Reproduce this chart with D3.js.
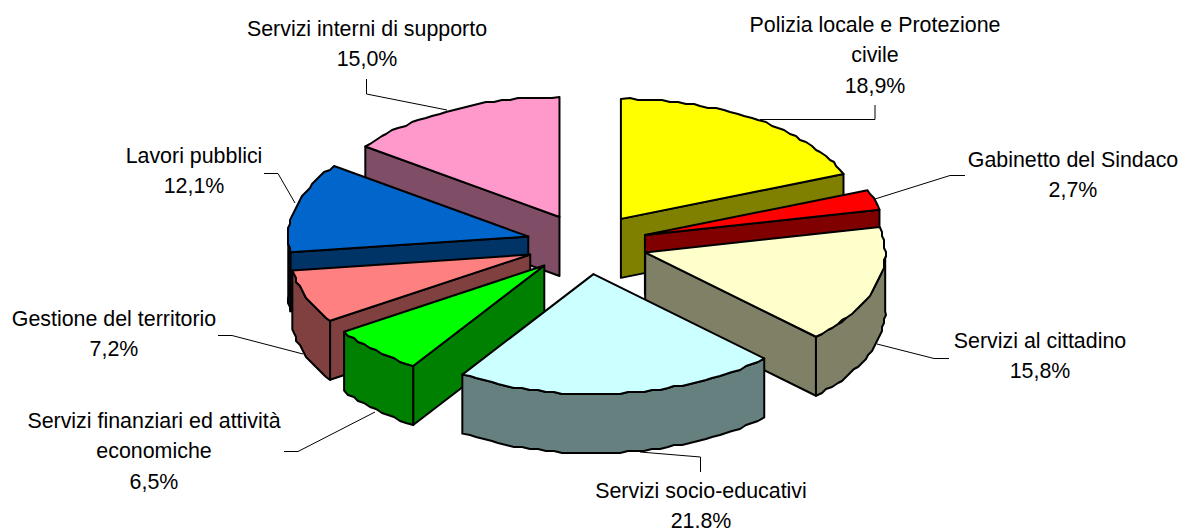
<!DOCTYPE html>
<html>
<head>
<meta charset="utf-8">
<style>
  html, body { margin: 0; background: #fff; }
  text { font-family: "Liberation Sans", Arial, sans-serif; font-size: 21.4px; fill: #000; text-anchor: middle; }
</style>
<script src="https://cdn.jsdelivr.net/npm/d3@7"></script>
</head>
<body>
<script>
// data, clockwise from 12 o'clock
var categories = [
  ["Polizia locale e Protezione", "civile"],
  ["Gabinetto del Sindaco"],
  ["Servizi al cittadino"],
  ["Servizi socio-educativi"],
  ["Servizi finanziari ed attività", "economiche"],
  ["Gestione del territorio"],
  ["Lavori pubblici"],
  ["Servizi interni di supporto"]
];
var shares = [18.9, 2.7, 15.8, 21.8, 6.5, 7.2, 12.1, 15.0];
var colors = ["#ffff00", "#ff0000", "#ffffcc", "#ccffff", "#00ff00", "#ff8080", "#0066cc", "#ff99cc"];

// label layout: centre x, first baseline, leader line
var labelX = [875, 1073, 1040, 701, 154, 114, 194, 367];
var labelY = [32, 166.5, 348, 498, 428, 326, 163, 36];
var leaders = [
  [[760, 119.5], [875, 119.5], [875, 105]],
  [[875, 199], [950, 175.5], [965, 175.5]],
  [[877, 344], [934, 358.5], [949, 358.5]],
  [[640, 452], [700.5, 457], [700.5, 472]],
  [[375, 412], [298, 451.5], [284, 451.5]],
  [[303, 354], [232, 335.5], [218, 335.5]],
  [[295, 203], [278, 173.5], [264, 173.5]],
  [[447, 110], [366.5, 94], [366.5, 79]]
];

// painter's order, back to front
var drawOrder = [7, 0, 6, 1, 5, 2, 4, 3];

var width = 1180;
var height = 528;
var cx = 587;
var cy = 244;
var rx = 240;
var ry = 120;
var explode = 60.6;
var depth = 59;

var svg = d3.select("body")
            .append("svg")
            .attr("width", width)
            .attr("height", height)
            .style("display", "block");

var pie = d3.pie().sort(null).value(function(d) { return d; });
var arcs = pie(shares);

var fmt = d3.formatLocale({decimal: ",", thousands: ".", grouping: [3], currency: ["", ""]}).format(".1f");

// project an angle (clockwise from top) and radius onto the tilted plane
function project(a, r) {
  return [r * Math.sin(a) * rx, -r * Math.cos(a) * ry];
}

// rim points, snapped to a coarse grid like the bumpy outline of the original
function rim(a0, a1, o, dy) {
  var pts = [];
  var n = Math.max(1, Math.ceil((a1 - a0) / (2 * Math.PI / 180)));
  for (var i = 0; i <= n; i++) {
    var p = project(a0 + (a1 - a0) * i / n, 1);
    var x = o[0] + p[0], y = o[1] + p[1];
    if (i > 0 && i < n) {
      x = Math.round(x / 2) * 2;
      y = Math.round(y / 2) * 2;
    }
    pts.push([x, y + dy]);
  }
  return pts;
}

var line = d3.line().curve(d3.curveLinearClosed);

function drawPoly(g, pts, fill) {
  g.append("path")
   .attr("d", line(pts))
   .attr("fill", fill)
   .attr("stroke", "#000")
   .attr("stroke-width", 2)
   .attr("stroke-linejoin", "round");
}

function darker(c) {
  var k = d3.rgb(c);
  return d3.rgb(k.r / 2, k.g / 2, k.b / 2).formatHex();
}

function edgeWall(o, a) {
  var p = project(a, 1);
  var tip = [o[0] + p[0], o[1] + p[1]];
  return [o, tip, [tip[0], tip[1] + depth], [o[0], o[1] + depth]];
}

// leaders go under the pie
svg.append("g")
   .selectAll("path")
   .data(leaders)
   .enter().append("path")
   .attr("d", d3.line())
   .attr("fill", "none")
   .attr("stroke", "#000")
   .attr("stroke-width", 1);

var pieG = svg.append("g");

drawOrder.forEach(function(i) {
  var d = arcs[i];
  var mid = (d.startAngle + d.endAngle) / 2;
  var off = project(mid, explode / rx);
  var o = [cx + off[0], cy + off[1]];
  var g = pieG.append("g");
  var wall = darker(colors[i]);

  if (Math.sin(d.startAngle) < -1e-6) drawPoly(g, edgeWall(o, d.startAngle), wall);
  if (Math.sin(d.endAngle) > 1e-6) drawPoly(g, edgeWall(o, d.endAngle), wall);

  // outer wall only where the rim faces the viewer
  var v0 = Math.max(d.startAngle, Math.PI / 2);
  var v1 = Math.min(d.endAngle, 3 * Math.PI / 2);
  if (v1 > v0) {
    drawPoly(g, rim(v0, v1, o, 0).concat(rim(v0, v1, o, depth).reverse()), wall);
  }

  drawPoly(g, [o].concat(rim(d.startAngle, d.endAngle, o, 0)), colors[i]);
});

// labels
var labels = svg.append("g")
                .selectAll("text")
                .data(categories)
                .enter().append("text")
                .attr("x", function(d, i) { return labelX[i]; })
                .attr("y", function(d, i) { return labelY[i]; });

labels.each(function(d, i) {
  var t = d3.select(this);
  d.concat([fmt(shares[i]) + "%"]).forEach(function(s, j) {
    t.append("tspan")
     .attr("x", labelX[i])
     .attr("y", labelY[i] + j * 30.3)
     .text(s);
  });
});
</script>
</body>
</html>
